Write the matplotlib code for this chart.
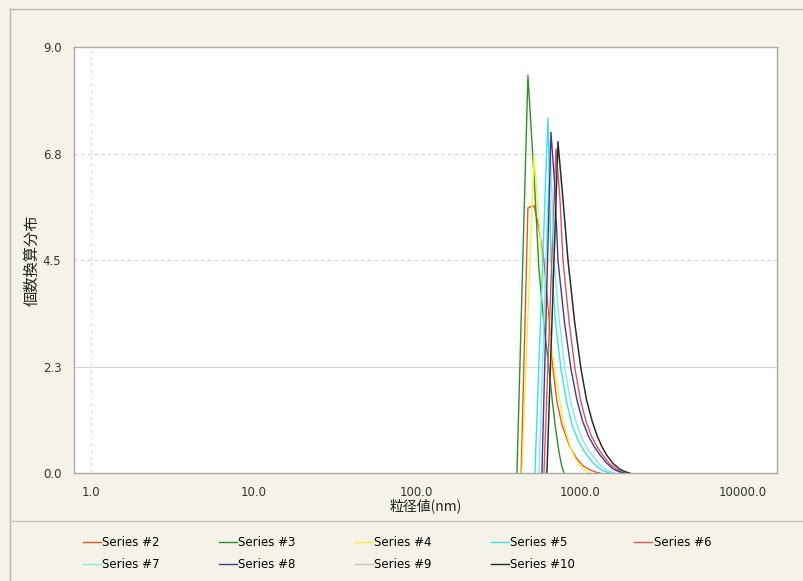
import matplotlib
matplotlib.use('Agg')
import matplotlib.pyplot as plt
from matplotlib.lines import Line2D

plt.rcParams['font.family'] = ['DejaVu Sans', 'Noto Sans CJK JP']

# particle size (nm) / number distribution for each run
size_s2 = [437, 481, 524, 560, 603, 645, 685, 725, 780, 871, 960, 1050, 1150, 1250, 1331]
dist_s2 = [0, 5.6, 5.65, 5.2, 4.5, 3.3, 2.2, 1.5, 1.0, 0.55, 0.3, 0.15, 0.07, 0.02, 0]

size_s3 = [412, 481, 530, 562, 605, 648, 680, 710, 745, 775, 800]
dist_s3 = [0, 8.4, 6.0, 4.3, 3.1, 2.2, 1.5, 0.95, 0.45, 0.15, 0]

size_s4 = [442, 524, 555, 586, 640, 700, 756, 811, 870, 930, 1000, 1080, 1155]
dist_s4 = [0, 6.7, 5.6, 4.5, 3.2, 2.2, 1.5, 0.95, 0.58, 0.33, 0.16, 0.05, 0]

size_s5 = [531, 638, 652, 666, 710, 767, 830, 900, 980, 1060, 1150, 1260, 1380, 1531]
dist_s5 = [0, 7.5, 6.1, 4.5, 3.2, 2.2, 1.5, 1.0, 0.68, 0.47, 0.3, 0.15, 0.05, 0]

size_s6 = [603, 715, 756, 789, 860, 935, 1010, 1090, 1180, 1280, 1388, 1520, 1680, 1820, 1920]
dist_s6 = [0, 6.85, 5.8, 4.5, 3.2, 2.2, 1.55, 1.1, 0.78, 0.55, 0.37, 0.2, 0.08, 0.02, 0]

size_s7 = [562, 656, 675, 695, 750, 811, 880, 955, 1030, 1110, 1205, 1320, 1460, 1643]
dist_s7 = [0, 7.0, 5.9, 4.5, 3.2, 2.2, 1.5, 1.05, 0.74, 0.52, 0.35, 0.18, 0.06, 0]

size_s8 = [586, 666, 705, 735, 805, 883, 960, 1040, 1130, 1230, 1331, 1460, 1610, 1760, 1893]
dist_s8 = [0, 7.2, 6.0, 4.5, 3.2, 2.2, 1.55, 1.1, 0.78, 0.55, 0.38, 0.21, 0.08, 0.02, 0]

size_s9 = [629, 735, 789, 847, 930, 1017, 1100, 1190, 1280, 1370, 1468, 1600, 1760, 1920, 2030]
dist_s9 = [0, 6.9, 5.7, 4.45, 3.15, 2.2, 1.55, 1.1, 0.78, 0.55, 0.37, 0.2, 0.08, 0.02, 0]

size_s10 = [629, 735, 789, 847, 930, 1017, 1100, 1190, 1280, 1370, 1468, 1600, 1760, 1920, 2030]
dist_s10 = [0, 7.0, 5.8, 4.5, 3.2, 2.2, 1.55, 1.1, 0.78, 0.55, 0.37, 0.2, 0.08, 0.02, 0]

series_names = ['Series #2', 'Series #3', 'Series #4', 'Series #5', 'Series #6',
                'Series #7', 'Series #8', 'Series #9', 'Series #10']
series_sizes = [size_s2, size_s3, size_s4, size_s5, size_s6,
                size_s7, size_s8, size_s9, size_s10]
series_dists = [dist_s2, dist_s3, dist_s4, dist_s5, dist_s6,
                dist_s7, dist_s8, dist_s9, dist_s10]
series_colors = ['#e0582f', '#2f8f2f', '#f2f23c', '#3ee0e0', '#d85462',
                 '#78eef6', '#3c3c98', '#c4c4c4', '#282828']

y_ticks = [0, 2.25, 4.5, 6.75, 9.0]
y_tick_labels = ['0.0', '2.3', '4.5', '6.8', '9.0']
x_ticks = [1, 10, 100, 1000, 10000]
x_tick_labels = ['1.0', '10.0', '100.0', '1000.0', '10000.0']

W, H = 804, 581
bg = '#f5f3e7'
fig = plt.figure(figsize=(W / 100, H / 100), dpi=100, facecolor=bg)

# outer panel frame and the separator above the legend
def px_line(x0, y0, x1, y1, color):
    fig.add_artist(Line2D([x0 / W, x1 / W], [1 - y0 / H, 1 - y1 / H],
                          transform=fig.transFigure, color=color, lw=1.0))

px_line(10, 9, W, 9, '#b9b9aa')
px_line(10, 9, 10, H, '#b9b9aa')
px_line(10, 521, W, 521, '#c6c6b6')

ax = fig.add_axes([74 / W, 1 - 473 / H, (777 - 74) / W, (473 - 47) / H])
ax.set_facecolor('white')

for name, xs, ys, c in zip(series_names, series_sizes, series_dists, series_colors):
    ax.plot(xs, ys, color=c, lw=1.0, label=name)

ax.set_xscale('log')
ax.set_xlim(0.792, 16200)
ax.set_ylim(0, 9.0)

ax.set_yticks(y_ticks)
ax.set_yticklabels(y_tick_labels)
ax.set_xticks(x_ticks)
ax.set_xticklabels(x_tick_labels)
ax.minorticks_off()
ax.tick_params(length=0, labelsize=8.5, labelcolor='#333333', pad=9)

for y in y_ticks[1:-1]:
    ls = '-' if y == 2.25 else (0, (3, 3))
    ax.axhline(y, color='#d6d6d6', lw=0.8, ls=ls, zorder=0)
ax.axvline(1.0, color='#e2e2e2', lw=0.8, ls=(0, (3, 3)), zorder=0)

for sp in ax.spines.values():
    sp.set_color('#a9a9a9')
    sp.set_linewidth(1.0)

ax.set_xlabel('粒径値(nm)', fontsize=10, labelpad=0, color='#222222',
              family=['Noto Sans CJK JP', 'DejaVu Sans'])
ax.set_ylabel('個数換算分布', fontsize=11, labelpad=1.5, color='#222222',
              family=['Noto Sans CJK JP', 'DejaVu Sans'])

# legend fills column by column, so reorder to read row by row
handles, labels = ax.get_legend_handles_labels()
order = [0, 5, 1, 6, 2, 7, 3, 8, 4]
fig.legend([handles[i] for i in order], [labels[i] for i in order],
           loc='upper left', bbox_to_anchor=(83 / W, 1 - 536 / H),
           ncol=5, frameon=False, fontsize=8.5, handlelength=1.5,
           handletextpad=0.15, columnspacing=5.0, labelspacing=0.75,
           borderpad=0, borderaxespad=0)

fig.savefig('out.png', dpi=100, facecolor=bg)
